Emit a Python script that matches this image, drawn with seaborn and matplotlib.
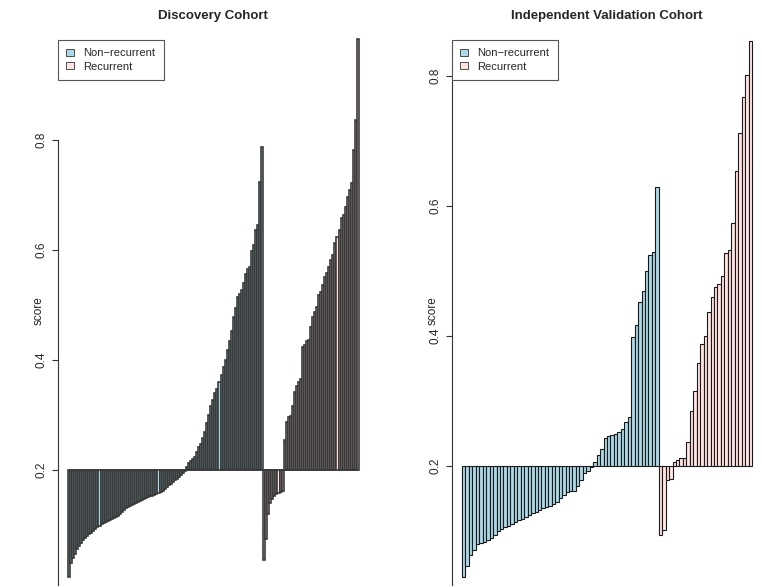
import numpy as np
import pandas as pd
import matplotlib
matplotlib.use("Agg")
import matplotlib.pyplot as plt
import seaborn as sns
from matplotlib.patches import Patch

# Discovery cohort scores, sorted within group
disc_nonrec = [
    0.005, 0.031, 0.040, 0.047, 0.056, 0.062, 0.068, 0.073, 0.077, 0.080,
    0.083, 0.086, 0.089, 0.093, 0.096, 0.099, 0.102, 0.104, 0.106, 0.107,
    0.109, 0.111, 0.113, 0.115, 0.117, 0.120, 0.124, 0.128, 0.131, 0.133,
    0.135, 0.137, 0.138, 0.140, 0.142, 0.144, 0.146, 0.148, 0.149, 0.151,
    0.152, 0.153, 0.155, 0.156, 0.158, 0.160, 0.162, 0.166, 0.169, 0.172,
    0.175, 0.178, 0.181, 0.184, 0.187, 0.191, 0.195, 0.198,
    0.205, 0.212, 0.216, 0.220, 0.223, 0.232, 0.242, 0.248, 0.258, 0.270,
    0.285, 0.300, 0.316, 0.327, 0.340, 0.348, 0.360, 0.373, 0.388, 0.400,
    0.418, 0.435, 0.452, 0.478, 0.495, 0.515, 0.520, 0.528, 0.540, 0.556,
    0.565, 0.570, 0.598, 0.610, 0.636, 0.645, 0.724, 0.787,
]
disc_rec = [
    0.036, 0.075, 0.120, 0.140, 0.148, 0.153, 0.156, 0.158, 0.160, 0.162,
    0.255, 0.287, 0.296, 0.298, 0.316, 0.341, 0.352, 0.360, 0.365, 0.423,
    0.428, 0.434, 0.436, 0.460, 0.478, 0.487, 0.496, 0.518, 0.524, 0.536,
    0.551, 0.558, 0.569, 0.582, 0.591, 0.613, 0.624, 0.636, 0.658, 0.664,
    0.679, 0.697, 0.710, 0.722, 0.782, 0.836, 0.983,
]

# Independent validation cohort scores
val_nonrec = [
    0.030, 0.046, 0.063, 0.071, 0.080, 0.081, 0.083, 0.086, 0.089, 0.094,
    0.100, 0.103, 0.106, 0.108, 0.111, 0.114, 0.117, 0.119, 0.122, 0.125,
    0.128, 0.130, 0.132, 0.135, 0.137, 0.139, 0.141, 0.145,
    0.151, 0.155, 0.160, 0.161, 0.162, 0.169, 0.178, 0.189, 0.193, 0.198,
    0.207, 0.217, 0.226, 0.243, 0.246, 0.248, 0.250, 0.252, 0.257, 0.268,
    0.275, 0.399, 0.417, 0.452, 0.469, 0.500, 0.525, 0.529, 0.630,
]
val_rec = [
    0.094, 0.101, 0.178, 0.180, 0.206, 0.210, 0.212, 0.213, 0.237, 0.285,
    0.315, 0.358, 0.388, 0.400, 0.437, 0.460, 0.475, 0.480, 0.492, 0.528,
    0.532, 0.574, 0.654, 0.712, 0.768, 0.802, 0.854,
]

groups = ["Non\u2212recurrent", "Recurrent"]
colors = {"Non\u2212recurrent": "#ADD8E6", "Recurrent": "#FFE4E1"}
baseline = 0.2


def make_df(nonrec, rec):
    scores = list(nonrec) + list(rec)
    labels = [groups[0]] * len(nonrec) + [groups[1]] * len(rec)
    df = pd.DataFrame({"idx": range(len(scores)), "score": scores, "group": labels})
    df["delta"] = df["score"] - baseline
    return df


def waterfall(ax, df, title, ylim, xpad, lw, edge):
    sns.barplot(data=df, x="idx", y="delta", hue="group", palette=colors,
                hue_order=groups, dodge=False, width=1.0, saturation=1,
                errorbar=None, edgecolor=edge, linewidth=lw,
                bottom=baseline, legend=False, ax=ax)
    n = len(df)
    ax.set_xlim(-0.5 - xpad[0], n - 0.5 + xpad[1])
    ax.set_ylim(*ylim)
    ax.set_xticks([])
    ax.set_xlabel("")
    ax.set_yticks([0.2, 0.4, 0.6, 0.8])
    ax.set_yticklabels(["0.2", "0.4", "0.6", "0.8"], rotation=90, va="center")
    ax.tick_params(axis="y", length=4.5, width=0.8, color="#333333",
                   labelsize=8.5, pad=3, left=True)
    ax.set_ylabel("score", fontsize=8.5)
    ax.yaxis.set_label_coords(-0.042, 0.495)
    for s in ["top", "right", "bottom"]:
        ax.spines[s].set_visible(False)
    ax.spines["left"].set_color("#333333")
    ax.spines["left"].set_linewidth(0.8)
    ax.spines["left"].set_bounds(ylim[0], 0.8)
    ax.set_title(title, fontsize=9.5, fontweight="bold", pad=8)
    handles = [Patch(facecolor=colors[g], edgecolor="#333333", linewidth=0.6) for g in groups]
    leg = ax.legend(handles, groups, loc="upper left", bbox_to_anchor=(0.0, 0.982),
                    fontsize=8, handlelength=0.65, handleheight=0.65,
                    handletextpad=0.9, borderpad=0.75, labelspacing=0.3,
                    fancybox=False, framealpha=1, borderaxespad=0)
    leg.get_frame().set_edgecolor("#555555")
    leg.get_frame().set_linewidth(0.8)


sns.set_style("white")
plt.rcParams["font.family"] = ["Liberation Sans", "DejaVu Sans"]

W, H = 762, 587
fig = plt.figure(figsize=(W / 100, H / 100), dpi=100)
ax1 = fig.add_axes([58 / W, 2 / H, 310 / W, 555 / H])
ax2 = fig.add_axes([452 / W, 2 / H, 310 / W, 555 / H])

df1 = make_df(disc_nonrec, disc_rec)
df2 = make_df(val_nonrec, val_rec)

waterfall(ax1, df1, "Discovery Cohort", (-0.009, 1.0), (4.9, 4.5), 1.15, "#333333")
waterfall(ax2, df2, "Independent Validation Cohort", (0.017, 0.871), (2.9, 2.9), 0.8, "#1a1a1a")

fig.savefig("out.png", dpi=100)
